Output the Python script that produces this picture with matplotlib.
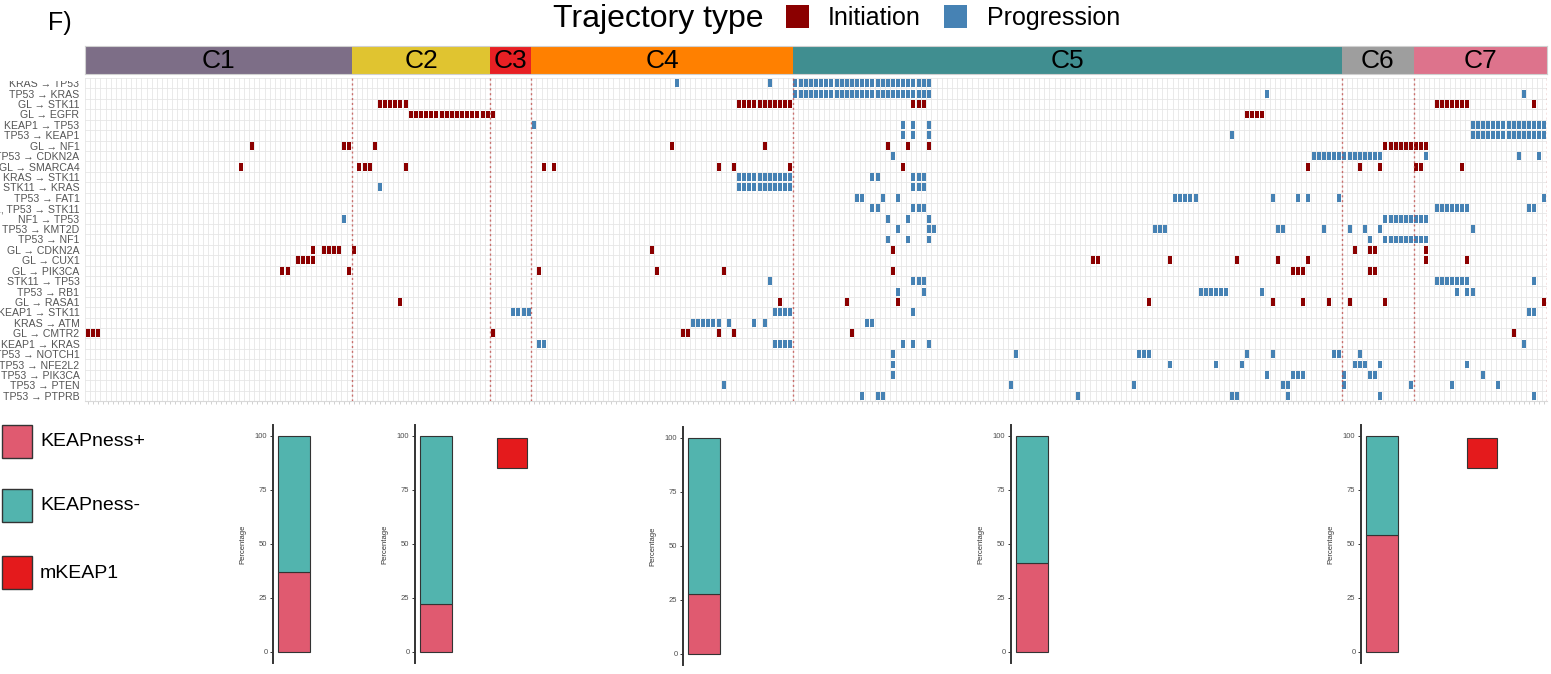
import matplotlib.pyplot as plt
from matplotlib.patches import Rectangle

plt.rcParams["font.family"] = ["Liberation Sans", "DejaVu Sans"]

# trajectory rows, top to bottom
trajectories = [
    "KRAS → TP53", "TP53 → KRAS", "GL → STK11", "GL → EGFR", "KEAP1 → TP53",
    "TP53 → KEAP1", "GL → NF1", "TP53 → CDKN2A", "GL → SMARCA4", "KRAS → STK11",
    "STK11 → KRAS", "TP53 → FAT1", "KEAP1, TP53 → STK11", "NF1 → TP53", "TP53 → KMT2D",
    "TP53 → NF1", "GL → CDKN2A", "GL → CUX1", "GL → PIK3CA", "STK11 → TP53",
    "TP53 → RB1", "GL → RASA1", "KEAP1 → STK11", "KRAS → ATM", "GL → CMTR2",
    "KEAP1 → KRAS", "TP53 → NOTCH1", "TP53 → NFE2L2", "TP53 → PIK3CA", "TP53 → PTEN",
    "TP53 → PTPRB",
]

# patient columns carrying each trajectory; (a, b) is a consecutive block a..b
patients = [
    [115, 133, (138, 164)],
    [(138, 164), 230, 280],
    [(57, 62), (127, 137), (161, 163), (263, 269), 282],
    [(63, 79), (226, 229)],
    [87, 159, 161, 164, (270, 284)],
    [159, 161, 164, 223, (270, 284)],
    [32, 50, 51, 56, 114, 132, 156, 160, 164, (253, 261)],
    [157, (239, 252), 261, 279, 283],
    [30, 53, 54, 55, 62, 89, 91, 123, 126, 137, 159, 238, 248, 252, 259, 260, 268],
    [(127, 137), 153, 154, (161, 163)],
    [57, (127, 137), (161, 163)],
    [150, 151, 155, 158, (212, 216), 231, 236, 238, 244, 284],
    [153, 154, (161, 163), (263, 269), 281, 282],
    [50, 156, 160, 164, (253, 261)],
    [158, 164, 165, (208, 210), 232, 233, 241, 246, 249, 252, 270],
    [156, 160, 164, 250, (253, 261)],
    [44, 46, 47, 48, 49, 52, 110, 157, 247, 250, 251, 261],
    [41, 42, 43, 44, 196, 197, 211, 224, 232, 238, 261, 269],
    [38, 39, 51, 88, 111, 124, 157, 235, 236, 237, 250, 251],
    [133, (161, 163), (263, 269), 282],
    [158, 163, (217, 222), 229, 267, 269, 270],
    [61, 135, 148, 158, 207, 231, 237, 242, 246, 253, 284],
    [(83, 86), (134, 137), 161, 281, 282],
    [(118, 123), 125, 130, 132, 152, 153],
    [0, 1, 2, 79, 116, 117, 123, 126, 149, 278],
    [88, 89, (134, 137), 159, 161, 164, 280],
    [157, 181, 205, 206, 207, 226, 231, 243, 244, 248],
    [157, 211, 220, 225, 247, 248, 249, 252, 269],
    [157, 230, 235, 236, 237, 245, 250, 251, 272],
    [124, 180, 204, 233, 234, 245, 258, 266, 275],
    [151, 154, 155, 193, 223, 224, 234, 252, 282],
]

clusters = ["C1", "C2", "C3", "C4", "C5", "C6", "C7"]
cluster_sizes = [52, 27, 8, 51, 107, 14, 26]
cluster_colors = ["#7D6E87", "#E0C430", "#E82024", "#FF8000", "#408E90", "#9E9E9E", "#DD738C"]

# KEAPness composition per cluster (percent KEAPness+)
bar_clusters = ["C1", "C2", "C4", "C5", "C7"]
keapness_pos = [37, 22, 28, 41, 54]
mkeap1_clusters = ["C2", "C7"]

init_color = "#8B0000"
prog_color = "#4682B4"
pos_color = "#E05A70"
neg_color = "#52B4AE"
mkeap_color = "#E41A1C"

W, H = 1551, 674
fig = plt.figure(figsize=(W / 100, H / 100), dpi=100)


def px_axes(left, top, right, bottom):
    return fig.add_axes([left / W, 1 - bottom / H, (right - left) / W, (bottom - top) / H])


def px_rect(x, y, w, h, **kw):
    fig.add_artist(Rectangle((x / W, 1 - (y + h) / H), w / W, h / H,
                             transform=fig.transFigure, **kw))


def expand(entries):
    cols = []
    for e in entries:
        if isinstance(e, tuple):
            cols.extend(range(e[0], e[1] + 1))
        else:
            cols.append(e)
    return cols


n_cols = sum(cluster_sizes)
n_rows = len(trajectories)
edges = [sum(cluster_sizes[:i + 1]) - 0.5 for i in range(len(cluster_sizes))]
starts = [-0.5] + edges[:-1]

# heatmap of trajectories
ax = px_axes(85, 78, 1547, 401)
ax.set_xlim(-0.5, n_cols - 0.5)
ax.set_ylim(n_rows - 0.5, -0.5)
for c in range(n_cols + 1):
    ax.axvline(c - 0.5, color="#E6E6E6", lw=0.6, zorder=0)
for r in range(n_rows + 1):
    ax.axhline(r - 0.5, color="#E6E6E6", lw=0.6, zorder=0)

for row, (label, entries) in enumerate(zip(trajectories, patients)):
    color = init_color if label.startswith("GL") else prog_color
    cols = expand(entries)
    ax.bar(cols, 0.76, bottom=row - 0.38, width=0.78, color=color, lw=0, zorder=2)

for x in edges:
    ax.axvline(x, color="#C0504D", lw=1.0, ls=(0, (1.5, 2)), alpha=0.8, zorder=3)

ax.set_yticks(range(n_rows))
ax.set_yticklabels(trajectories, fontsize=7.6, color="#555555")
ax.tick_params(axis="y", length=0, pad=4)
ax.set_xticks(range(n_cols))
ax.set_xticklabels([])
ax.tick_params(axis="x", length=2.5, width=0.5, color="#BFBFBF")
for side in ["top", "right", "left"]:
    ax.spines[side].set_visible(False)
ax.spines["bottom"].set_color("#D9D9D9")

# white band that trims the first label under the cluster strip
px_rect(0, 72, 85, 8.5, facecolor="white", edgecolor="none", zorder=5)

# cluster strip
cax = px_axes(85, 46, 1547, 74)
cax.set_xlim(-0.5, n_cols - 0.5)
cax.set_ylim(0, 1)
for name, s, e, col in zip(clusters, starts, edges, cluster_colors):
    cax.barh(0.5, e - s, left=s, height=1, color=col, lw=0)
    cax.text((s + e) / 2, 0.47, name, ha="center", va="center", fontsize=19, color="black")
cax.set_xticks([])
cax.set_yticks([])
for sp in cax.spines.values():
    sp.set_color("#D0D0D0")
    sp.set_linewidth(0.8)
cax.set_zorder(6)

# header
fig.text(48 / W, 1 - 23 / H, "F)", fontsize=18, va="center")
fig.text(553 / W, 1 - 19 / H, "Trajectory type", fontsize=23, va="center")
px_rect(786, 5, 23, 23, facecolor=init_color, edgecolor="none")
fig.text(828 / W, 1 - 18 / H, "Initiation", fontsize=18, va="center")
px_rect(944, 5, 23, 23, facecolor=prog_color, edgecolor="none")
fig.text(987 / W, 1 - 18 / H, "Progression", fontsize=18, va="center")

# KEAPness legend
legend_items = [("KEAPness+", pos_color, 425), ("KEAPness-", neg_color, 489), ("mKEAP1", mkeap_color, 556)]
for text, col, y in legend_items:
    px_rect(2, y, 30, 33, facecolor=col, edgecolor="#333333", lw=1)
    fig.text(40 / W, 1 - (y + 17) / H, text, fontsize=14, va="center")

# stacked composition bars
spine_x = {"C1": 273, "C2": 415, "C4": 683, "C5": 1011, "C7": 1361}
y100 = {"C1": 436, "C2": 436, "C4": 438, "C5": 436, "C7": 436}
square_x = {"C2": 497, "C7": 1467}
scale = 2.16
for name, pct in zip(bar_clusters, keapness_pos):
    top = y100[name] - 5 * scale
    bottom = y100[name] + 105 * scale
    bax = px_axes(spine_x[name], top, spine_x[name] + 40, bottom)
    bax.bar(0.525, pct, width=0.8, color=pos_color, edgecolor="#333333", lw=0.8)
    bax.bar(0.525, 100 - pct, bottom=pct, width=0.8, color=neg_color, edgecolor="#333333", lw=0.8)
    bax.set_xlim(0, 1)
    bax.set_ylim(-5, 105)
    bax.set_yticks([0, 25, 50, 75, 100])
    bax.tick_params(axis="y", labelsize=5.5, length=2.5, width=0.7, colors="#333333",
                    labelcolor="#4D4D4D", pad=1.5)
    bax.set_xticks([])
    bax.set_ylabel("Percentage", fontsize=5.5, color="#333333", labelpad=6)
    for side in ["top", "right", "bottom"]:
        bax.spines[side].set_visible(False)
    bax.spines["left"].set_color("#333333")
    bax.spines["left"].set_linewidth(1.4)
    bax.patch.set_alpha(0)
    if name in mkeap1_clusters:
        px_rect(square_x[name], 438, 30, 30, facecolor=mkeap_color, edgecolor="#333333", lw=0.8)

fig.savefig("out.png", dpi=100)
